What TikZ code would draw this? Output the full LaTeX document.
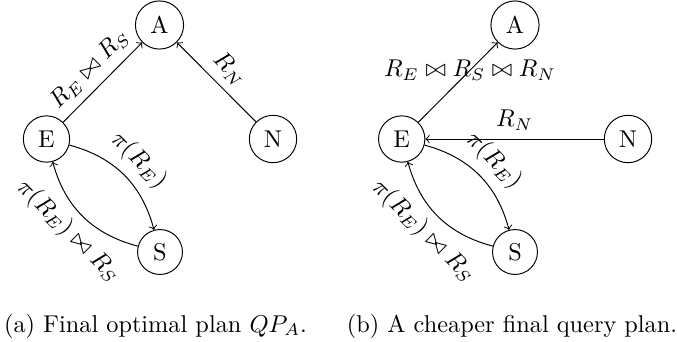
\documentclass[tikz,border=0pt]{standalone}
\begin{document}
\begin{tikzpicture}[x=0.4115pt,y=-0.4115pt,
  st/.style={circle,draw},
  arr/.style={->},
  captext/.style={anchor=base}]
\useasboundingbox (0,0) rectangle (677,341);
% (a)
\node[st] (A1) at (159.5,25) {A};
\node[st] (E1) at (46.5,139) {E};
\node[st] (N1) at (273,139) {N};
\node[st] (S1) at (160,252) {S};
\draw[arr] (E1) -- node[sloped,above] {$R_E \bowtie R_S$} (A1);
\draw[arr] (N1) -- node[sloped,above] {$R_N$} (A1);
\draw[arr] (E1) to[bend left=30] node[sloped,above] {$\pi(R_E)$} (S1);
\draw[arr] (S1) to[bend left=30] node[sloped,below] {$\pi(R_E)\bowtie R_S$} (E1);
% (b)
\node[st] (A2) at (515,25) {A};
\node[st] (E2) at (401.7,139) {E};
\node[st] (N2) at (628,139) {N};
\node[st] (S2) at (515,252) {S};
\draw[arr] (E2) -- node[pos=0.65] {$R_E \bowtie R_S \bowtie R_N$} (A2);
\draw[arr] (N2) -- node[above] {$R_N$} (E2);
\draw[arr] (E2) to[bend left=30] node[sloped,above] {$\pi(R_E)$} (S2);
\draw[arr] (S2) to[bend left=30] node[sloped,below] {$\pi(R_E)\bowtie R_S$} (E2);
% captions
\node[captext] (capa) at (155.5,332) {(a) Final optimal plan $QP_A$.};
\node[captext] (capb) at (512,332) {(b) A cheaper final query plan.};
\end{tikzpicture}
\end{document}
